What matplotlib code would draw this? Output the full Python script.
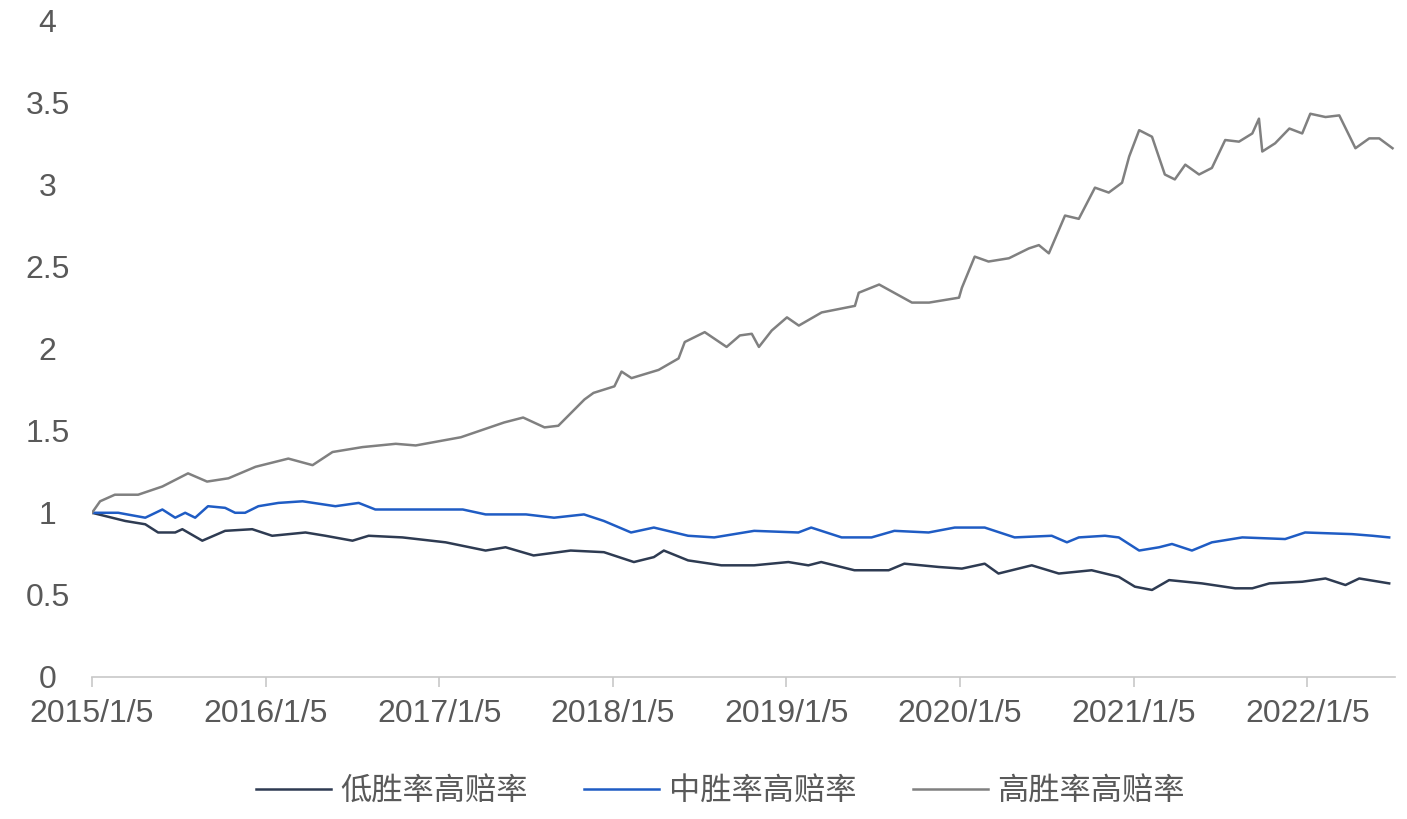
import pandas as pd
import matplotlib.pyplot as plt
from matplotlib.ticker import FuncFormatter

plt.rcParams["font.family"] = ["Liberation Sans", "Noto Sans CJK SC", "DejaVu Sans"]

# series names
names = ["低胜率高赔率", "中胜率高赔率", "高胜率高赔率"]

# 低胜率高赔率
low_dates = [
    "2015-01-05", "2015-03-16", "2015-04-27", "2015-05-24", "2015-06-29", "2015-07-14",
    "2015-08-25", "2015-10-12", "2015-12-08", "2016-01-19", "2016-03-29", "2016-05-10",
    "2016-07-06", "2016-08-09", "2016-10-19", "2017-01-18", "2017-04-12", "2017-05-24",
    "2017-07-22", "2017-10-08", "2017-12-17", "2018-02-18", "2018-04-01", "2018-04-22",
    "2018-06-12", "2018-08-21", "2018-10-29", "2019-01-09", "2019-02-20", "2019-03-19",
    "2019-05-28", "2019-08-08", "2019-09-10", "2019-11-21", "2020-01-09", "2020-02-26",
    "2020-03-26", "2020-06-04", "2020-07-31", "2020-10-08", "2020-12-04", "2021-01-07",
    "2021-02-12", "2021-03-20", "2021-05-28", "2021-08-06", "2021-09-11", "2021-10-17",
    "2021-12-25", "2022-02-12", "2022-03-26", "2022-04-24", "2022-06-26",
]
low_values = [
    1.00, 0.95, 0.93, 0.88, 0.88, 0.90,
    0.83, 0.89, 0.90, 0.86, 0.88, 0.86,
    0.83, 0.86, 0.85, 0.82, 0.77, 0.79,
    0.74, 0.77, 0.76, 0.70, 0.73, 0.77,
    0.71, 0.68, 0.68, 0.70, 0.68, 0.70,
    0.65, 0.65, 0.69, 0.67, 0.66, 0.69,
    0.63, 0.68, 0.63, 0.65, 0.61, 0.55,
    0.53, 0.59, 0.57, 0.54, 0.54, 0.57,
    0.58, 0.60, 0.56, 0.60, 0.57,
]

# 中胜率高赔率
mid_dates = [
    "2015-01-05", "2015-03-01", "2015-04-27", "2015-06-02", "2015-06-29", "2015-07-20",
    "2015-08-10", "2015-09-06", "2015-10-12", "2015-11-02", "2015-11-23", "2015-12-21",
    "2016-02-01", "2016-03-23", "2016-05-31", "2016-07-19", "2016-08-23", "2016-10-19",
    "2016-12-28", "2017-02-23", "2017-04-12", "2017-07-06", "2017-09-03", "2017-11-05",
    "2017-12-17", "2018-02-12", "2018-04-01", "2018-06-12", "2018-08-06", "2018-10-29",
    "2019-01-30", "2019-02-26", "2019-05-01", "2019-07-03", "2019-08-20", "2019-10-31",
    "2019-12-25", "2020-02-26", "2020-04-29", "2020-07-16", "2020-08-17", "2020-09-11",
    "2020-11-05", "2020-12-04", "2021-01-16", "2021-02-27", "2021-03-26", "2021-05-07",
    "2021-06-18", "2021-08-21", "2021-11-19", "2021-12-31", "2022-04-09", "2022-05-22",
    "2022-06-26",
]
mid_values = [
    1.00, 1.00, 0.97, 1.02, 0.97, 1.00,
    0.97, 1.04, 1.03, 1.00, 1.00, 1.04,
    1.06, 1.07, 1.04, 1.06, 1.02, 1.02,
    1.02, 1.02, 0.99, 0.99, 0.97, 0.99,
    0.95, 0.88, 0.91, 0.86, 0.85, 0.89,
    0.88, 0.91, 0.85, 0.85, 0.89, 0.88,
    0.91, 0.91, 0.85, 0.86, 0.82, 0.85,
    0.86, 0.85, 0.77, 0.79, 0.81, 0.77,
    0.82, 0.85, 0.84, 0.88, 0.87, 0.86,
    0.85,
]

# 高胜率高赔率
high_dates = [
    "2015-01-05", "2015-01-22", "2015-02-22", "2015-04-12", "2015-06-02", "2015-07-26",
    "2015-09-04", "2015-10-19", "2015-12-15", "2016-02-22", "2016-04-13", "2016-05-25",
    "2016-07-27", "2016-10-05", "2016-11-16", "2017-02-19", "2017-05-21", "2017-06-30",
    "2017-08-14", "2017-09-12", "2017-11-06", "2017-11-25", "2018-01-08", "2018-01-23",
    "2018-02-13", "2018-04-11", "2018-05-23", "2018-06-05", "2018-07-17", "2018-09-01",
    "2018-09-29", "2018-10-24", "2018-11-08", "2018-12-05", "2019-01-06", "2019-01-31",
    "2019-03-20", "2019-05-29", "2019-06-06", "2019-07-19", "2019-09-26", "2019-11-01",
    "2020-01-03", "2020-01-09", "2020-02-05", "2020-03-05", "2020-04-17", "2020-05-29",
    "2020-06-19", "2020-07-10", "2020-08-13", "2020-09-11", "2020-10-15", "2020-11-13",
    "2020-12-11", "2020-12-26", "2021-01-16", "2021-02-12", "2021-03-11", "2021-04-01",
    "2021-04-23", "2021-05-22", "2021-06-18", "2021-07-16", "2021-08-14", "2021-09-11",
    "2021-09-25", "2021-10-02", "2021-10-29", "2021-11-28", "2021-12-25", "2022-01-11",
    "2022-02-12", "2022-03-13", "2022-04-16", "2022-05-15", "2022-06-05", "2022-07-03",
]
high_values = [
    1.00, 1.07, 1.11, 1.11, 1.16, 1.24,
    1.19, 1.21, 1.28, 1.33, 1.29, 1.37,
    1.40, 1.42, 1.41, 1.46, 1.55, 1.58,
    1.52, 1.53, 1.69, 1.73, 1.77, 1.86,
    1.82, 1.87, 1.94, 2.04, 2.10, 2.01,
    2.08, 2.09, 2.01, 2.11, 2.19, 2.14,
    2.22, 2.26, 2.34, 2.39, 2.28, 2.28,
    2.31, 2.37, 2.56, 2.53, 2.55, 2.61,
    2.63, 2.58, 2.81, 2.79, 2.98, 2.95,
    3.01, 3.17, 3.33, 3.29, 3.06, 3.03,
    3.12, 3.06, 3.10, 3.27, 3.26, 3.31,
    3.40, 3.20, 3.25, 3.34, 3.31, 3.43,
    3.41, 3.42, 3.22, 3.28, 3.28, 3.22,
]

tick_dates = ["2015-01-05", "2016-01-05", "2017-01-05", "2018-01-05",
              "2019-01-05", "2020-01-05", "2021-01-05", "2022-01-05"]
tick_labels = ["2015/1/5", "2016/1/5", "2017/1/5", "2018/1/5",
               "2019/1/5", "2020/1/5", "2021/1/5", "2022/1/5"]
y_ticks = [0, 0.5, 1, 1.5, 2, 2.5, 3, 3.5, 4]

colors = ["#2e3b52", "#1f5cc4", "#808080"]
text_color = "#595959"
axis_color = "#c8c8c8"

fig = plt.figure(figsize=(14.07, 8.19), dpi=100)
ax = fig.add_axes([0.0654, 0.1734, 0.926, 0.802])

series = [(low_dates, low_values), (mid_dates, mid_values), (high_dates, high_values)]
for (d, v), name, c in zip(series, names, colors):
    ax.plot(pd.to_datetime(d), v, color=c, linewidth=1.8, label=name)

ax.set_ylim(0, 4)
ax.set_yticks(y_ticks)
ax.yaxis.set_major_formatter(FuncFormatter(lambda v, _: f"{v:g}"))
ax.set_xlim(pd.Timestamp("2015-01-05"), pd.Timestamp("2022-07-08"))
ax.set_xticks(pd.to_datetime(tick_dates))
ax.set_xticklabels(tick_labels)

for s in ["top", "right", "left"]:
    ax.spines[s].set_visible(False)
ax.spines["bottom"].set_color(axis_color)
ax.spines["bottom"].set_linewidth(1.2)

ax.tick_params(axis="x", colors=axis_color, length=7, width=1.2, pad=9,
               labelcolor=text_color, labelsize=23)
ax.tick_params(axis="y", length=0, pad=32, labelcolor=text_color, labelsize=23)
for lbl in ax.get_yticklabels():
    lbl.set_horizontalalignment("center")

ax.legend(loc="center", bbox_to_anchor=(0.512, 0.033), bbox_transform=fig.transFigure,
          ncol=3, frameon=False, fontsize=22.5, handlelength=2.4, handletextpad=0.3,
          columnspacing=1.8, labelcolor=text_color)

plt.savefig("out.png", dpi=100)
